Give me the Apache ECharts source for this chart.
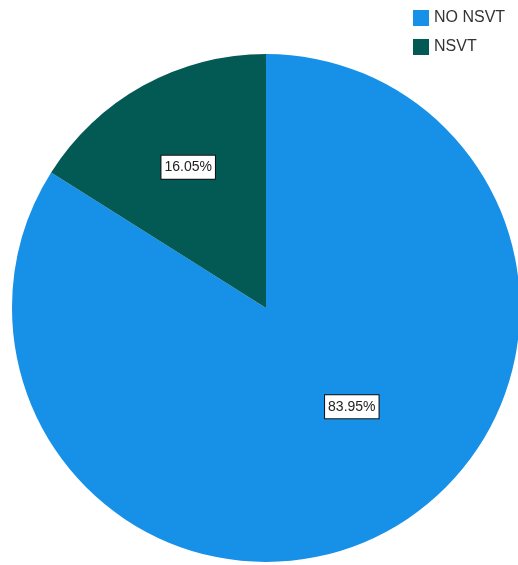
<!DOCTYPE html>
<html>
<head>
<meta charset="utf-8">
<script src="https://cdn.jsdelivr.net/npm/echarts@6/dist/echarts.min.js"></script>
<style>
  html, body { margin: 0; padding: 0; background: #fff; }
  #chart { width: 518px; height: 565px; }
</style>
</head>
<body>
<div id="chart"></div>
<script>
// Share of patients with and without non-sustained VT
const categories = ['NO NSVT', 'NSVT'];
const percents = [83.95, 16.05];
const colors = ['#1790E8', '#035A55'];
// nudges so each label sits where the slice area looks balanced
const labelOffsets = [[23, -15], [-15, -27]];

const chart = echarts.init(document.getElementById('chart'), null, { renderer: 'canvas' });

chart.setOption({
  animation: false,
  legend: {
    orient: 'vertical',
    left: 408,
    top: 5,
    itemWidth: 16,
    itemHeight: 16,
    itemGap: 13,
    icon: 'rect',
    textStyle: { fontFamily: 'Liberation Sans, Arial, sans-serif', fontSize: 16, color: '#333' },
    data: categories
  },
  series: [{
    type: 'pie',
    center: [266, 308],
    radius: 254,
    startAngle: 90,
    clockwise: true,
    label: {
      show: true,
      position: 'inside',
      formatter: p => p.value.toFixed(2) + '%',
      fontFamily: 'Liberation Sans, Arial, sans-serif',
      fontSize: 14,
      color: '#222',
      backgroundColor: '#fff',
      borderColor: '#111',
      borderWidth: 1,
      padding: [5, 3, 4, 3]
    },
    labelLine: { show: false },
    emphasis: { disabled: true },
    data: categories.map((name, i) => ({
      name,
      value: percents[i],
      itemStyle: { color: colors[i] },
      label: { offset: labelOffsets[i] }
    }))
  }]
});
</script>
</body>
</html>
